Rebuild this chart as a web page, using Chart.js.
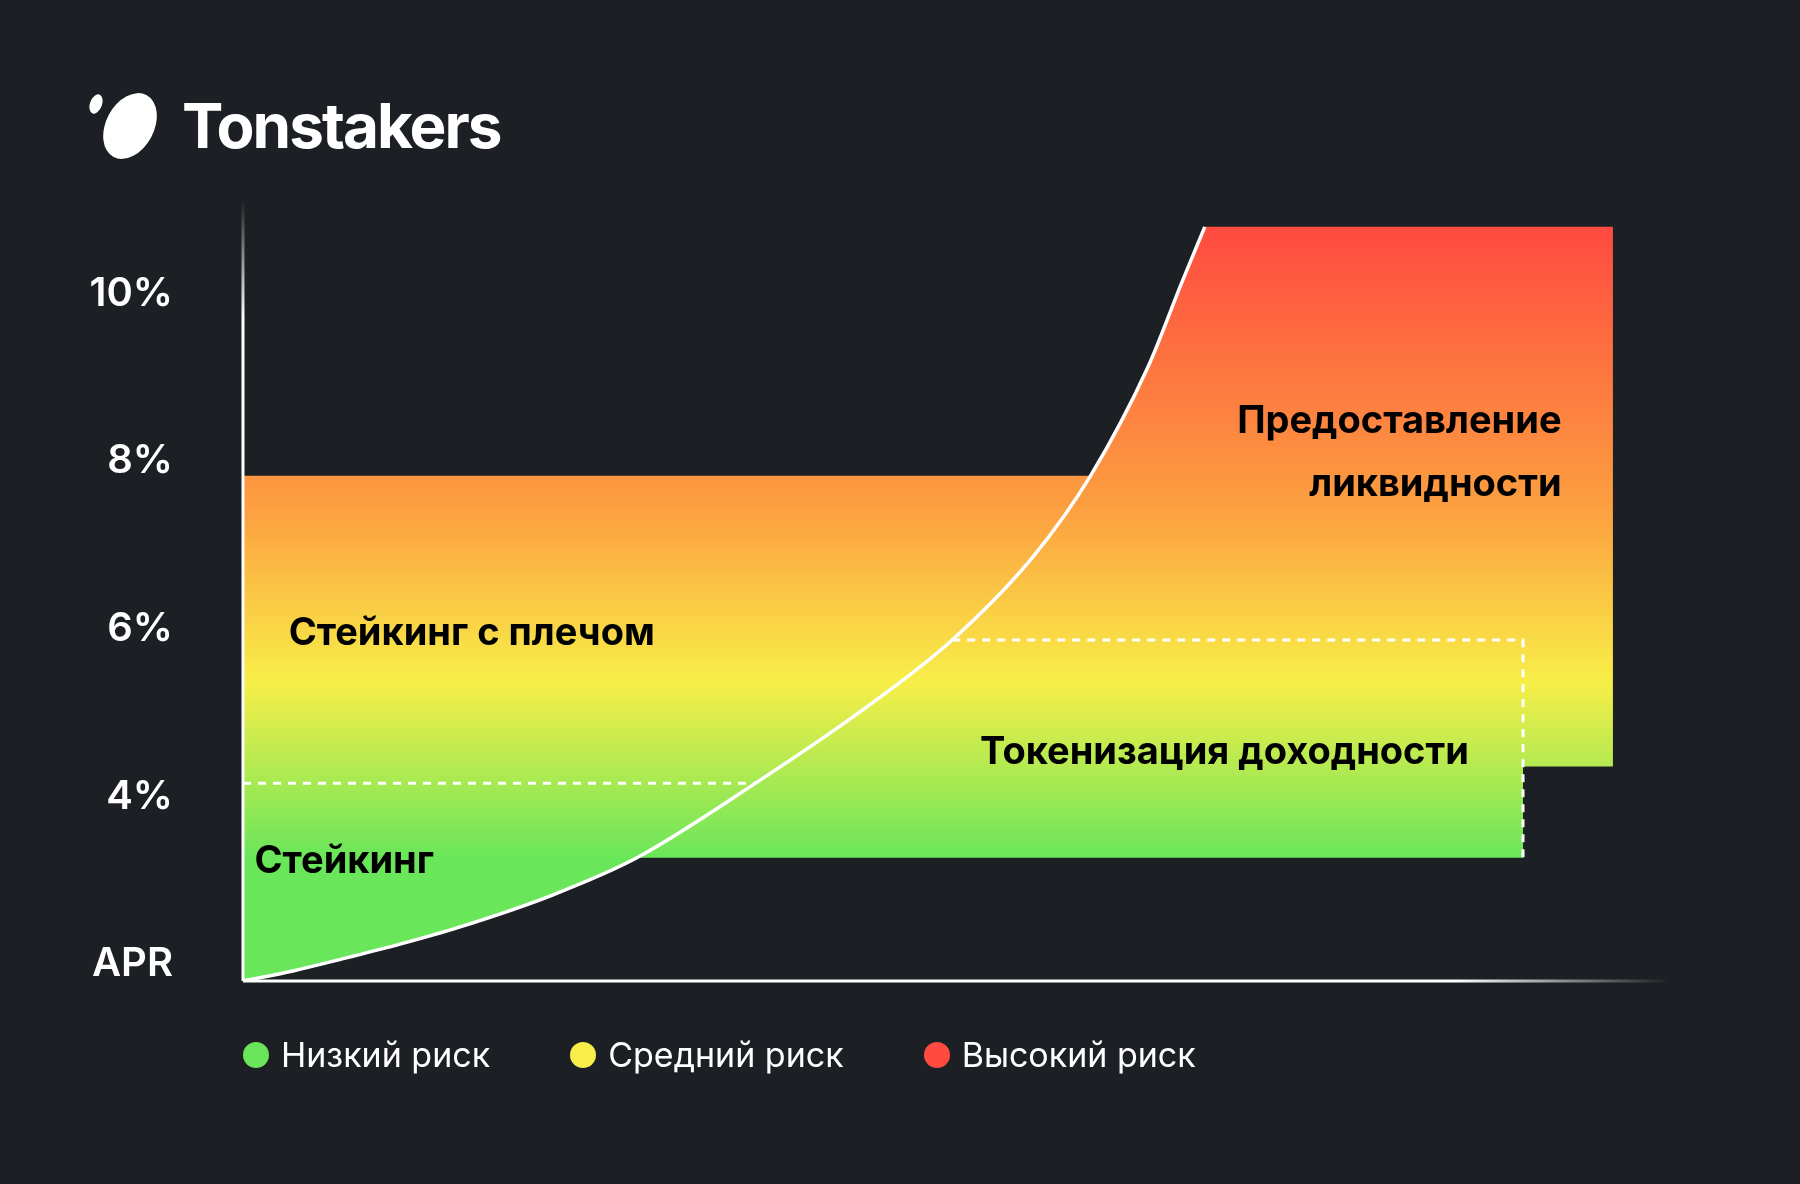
<!DOCTYPE html>
<html>
<head>
<meta charset="utf-8">
<script src="https://cdn.jsdelivr.net/npm/chart.js@4"></script>
<style>
  html, body { margin: 0; padding: 0; background: #1c1f23; }
  #wrap { position: relative; width: 1800px; height: 1184px; font-family: Inter, "Noto Sans", sans-serif; }
  #chart { position: absolute; left: 0; top: 0; }
  #brand { position: absolute; left: 88px; top: 88px; display: flex; align-items: center; color: #fff; font-weight: 700; font-size: 62px; letter-spacing: -2px; }
  #brand svg { margin-right: 22px; }
  #legend { position: absolute; left: 243px; top: 1034px; display: flex; color: #fff; font-size: 34px; }
  .item { display: flex; align-items: center; margin-right: 80px; }
  .dot { width: 26px; height: 26px; border-radius: 50%; margin-right: 12px; }
</style>
</head>
<body>
<div id="wrap">
  <canvas id="chart" width="1800" height="1184"></canvas>
  <div id="brand">
    <svg width="72" height="72" viewBox="0 0 72 72">
      <ellipse cx="8" cy="14" rx="6" ry="10" fill="#fff" transform="rotate(20 8 14)"/>
      <ellipse cx="42" cy="36" rx="24" ry="35" fill="#fff" transform="rotate(28 42 36)"/>
    </svg>
    Tonstakers
  </div>
  <div id="legend"></div>
</div>
<script>
// values in axis units: x = 0..100 along the horizontal axis, y = APR %
const yTicks = [2, 4, 6, 8, 10];
const riskNames = ["Низкий риск", "Средний риск", "Высокий риск"];
const riskColors = ["#6ae65a", "#f8ee48", "#ff4a40"];

// the white curve (risk / return frontier)
const curveX = [0, 3.5, 7.1, 11.0, 15.1, 21.6, 27.6, 36.0, 43.3, 49.7, 55.4, 59.4, 63.4, 65.8, 67.4];
const curveY = [1.8, 1.92, 2.07, 2.24, 2.44, 2.82, 3.27, 4.17, 5.02, 5.87, 6.87, 7.83, 9.12, 10.14, 10.8];

const leverTop = 7.83;      // Стейкинг с плечом ceiling
const liqTop = 10.8;        // Предоставление ликвидности ceiling
const liqBottom = 4.36;
const liqRight = 96;
const tokenTop = 5.87;
const tokenBottom = 3.27;
const tokenRight = 89.7;
const stakingTop = 4.16;

const areaLabels = [
  { text: "Стейкинг с плечом", x: 3.2, y: 5.95, align: "left" },
  { text: "Стейкинг", x: 0.8, y: 3.22, align: "left" },
  { text: "Токенизация доходности", x: 85.9, y: 4.52, align: "right" },
  { text: "Предоставление", x: 92.4, y: 8.47, align: "right" },
  { text: "ликвидности", x: 92.4, y: 7.72, align: "right" },
];

const curve = curveX.map((x, i) => ({ x, y: curveY[i] }));
const topEdge = [{ x: 0, y: leverTop }]
  .concat(curve.filter((p) => p.x >= 59.4))
  .concat([{ x: liqRight, y: liqTop }]);
const bottomEdge = curve.filter((p) => p.x <= 27.6)
  .concat([{ x: tokenRight, y: tokenBottom }, { x: tokenRight, y: liqBottom }, { x: liqRight, y: liqBottom }]);

function gradientFill(ctx) {
  const chart = ctx.chart;
  if (!chart.chartArea) return "#f8ee48";
  const y = chart.scales.y;
  const g = chart.ctx.createLinearGradient(0, y.getPixelForValue(liqTop), 0, y.getPixelForValue(tokenBottom));
  g.addColorStop(0, "#ff4a40");
  g.addColorStop(0.45, "#fca040");
  g.addColorStop(0.72, "#f8ee48");
  g.addColorStop(1, "#6ae65a");
  return g;
}

const decor = {
  id: "decor",
  afterDatasetsDraw(chart) {
    const { ctx, scales: { x, y }, chartArea: a } = chart;
    ctx.save();
    // axes with fading ends
    let g = ctx.createLinearGradient(0, a.bottom, 0, a.top);
    g.addColorStop(0, "#fff"); g.addColorStop(0.85, "#fff"); g.addColorStop(1, "rgba(255,255,255,0)");
    ctx.strokeStyle = g; ctx.lineWidth = 3;
    ctx.beginPath(); ctx.moveTo(a.left, a.bottom); ctx.lineTo(a.left, a.top); ctx.stroke();
    g = ctx.createLinearGradient(a.left, 0, a.right, 0);
    g.addColorStop(0, "#fff"); g.addColorStop(0.85, "#fff"); g.addColorStop(1, "rgba(255,255,255,0)");
    ctx.strokeStyle = g;
    ctx.beginPath(); ctx.moveTo(a.left, a.bottom); ctx.lineTo(a.right, a.bottom); ctx.stroke();
    // tick labels
    ctx.fillStyle = "#fff"; ctx.font = "600 40px Inter"; ctx.textAlign = "right"; ctx.textBaseline = "middle";
    yTicks.forEach((t) => ctx.fillText(t === 2 ? "APR" : t + "%", 173, y.getPixelForValue(t)));
    // area labels
    ctx.fillStyle = "#000"; ctx.font = "700 38px Inter";
    areaLabels.forEach((l) => { ctx.textAlign = l.align; ctx.fillText(l.text, x.getPixelForValue(l.x), y.getPixelForValue(l.y)); });
    ctx.restore();
  },
};

const dashed = { borderColor: "#fff", borderWidth: 3, borderDash: [8, 7], pointRadius: 0, fill: false, order: 0 };

new Chart(document.getElementById("chart"), {
  type: "scatter",
  data: {
    datasets: [
      { data: topEdge, showLine: true, borderWidth: 0, pointRadius: 0, fill: "+1", backgroundColor: gradientFill, order: 10 },
      { data: bottomEdge, showLine: true, borderWidth: 0, pointRadius: 0, fill: false, order: 9 },
      { data: [{ x: 0, y: stakingTop }, { x: 36.0, y: stakingTop }], showLine: true, ...dashed },
      { data: [{ x: 49.7, y: tokenTop }, { x: tokenRight, y: tokenTop }, { x: tokenRight, y: tokenBottom }], showLine: true, ...dashed },
      { data: curve, showLine: true, borderColor: "#fff", borderWidth: 3.5, pointRadius: 0, fill: false, order: -1, cubicInterpolationMode: "monotone" },
    ],
  },
  options: {
    responsive: false,
    animation: false,
    layout: { padding: { left: 243, right: 130, top: 200, bottom: 203 } },
    plugins: { legend: { display: false }, tooltip: { enabled: false } },
    scales: {
      x: { type: "linear", min: 0, max: 100, display: false },
      y: { type: "linear", min: 1.8, max: 11.12, display: false },
    },
  },
  plugins: [decor],
});

const legend = document.getElementById("legend");
riskNames.forEach((n, i) => {
  const el = document.createElement("div");
  el.className = "item";
  el.innerHTML = `<span class="dot" style="background:${riskColors[i]}"></span>${n}`;
  legend.appendChild(el);
});
</script>
</body>
</html>
